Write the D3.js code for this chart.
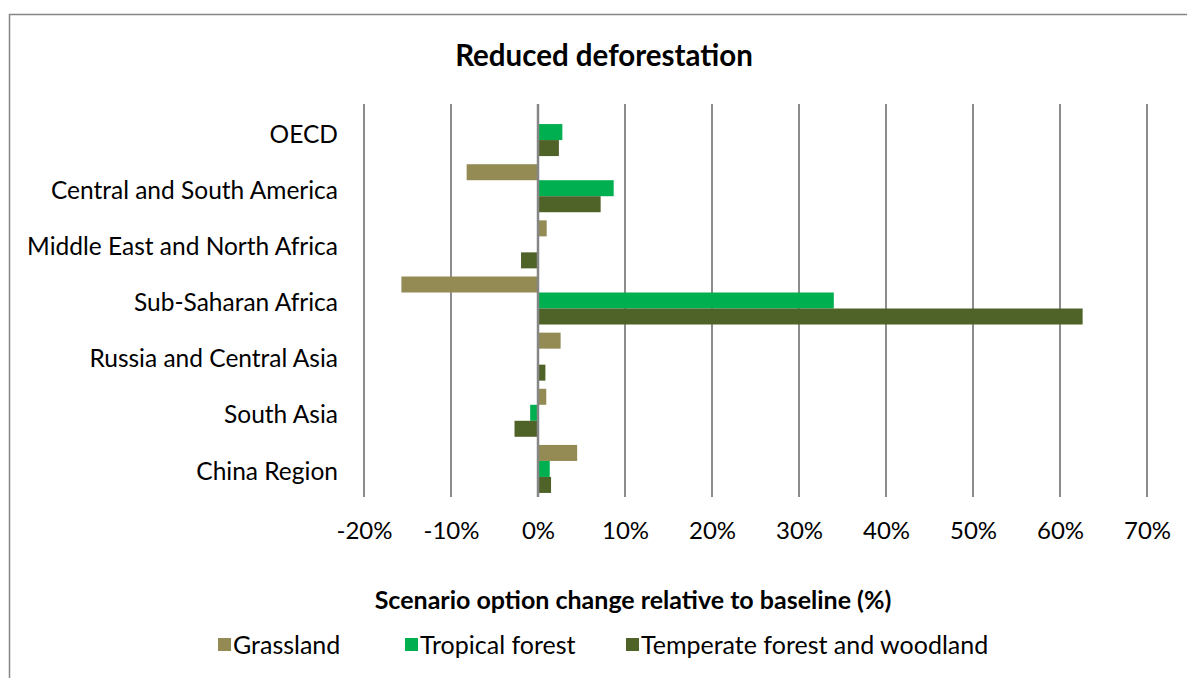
<!DOCTYPE html>
<html>
<head>
<meta charset="utf-8">
<script src="https://cdn.jsdelivr.net/npm/d3@7"></script>
<style>
  body { margin: 0; background: #fff; }
  text { font-family: Lato, "Open Sans", sans-serif; fill: #000; }
</style>
</head>
<body>
<div id="chart"></div>
<script>
// Data
const regions = ["OECD", "Central and South America", "Middle East and North Africa",
    "Sub-Saharan Africa", "Russia and Central Asia", "South Asia", "China Region"];
const seriesNames = ["Grassland", "Tropical forest", "Temperate forest and woodland"];
const grassland = [-0.001, -0.082, 0.010, -0.157, 0.026, 0.0095, 0.045];
const tropical = [0.028, 0.087, 0, 0.340, 0, -0.009, 0.0135];
const temperate = [0.024, 0.072, -0.0195, 0.626, 0.0085, -0.027, 0.015];
const xTicks = [-0.2, -0.1, 0, 0.1, 0.2, 0.3, 0.4, 0.5, 0.6, 0.7];
const colors = ["#948A54", "#00B050", "#4F6228"];

const width = 1187, height = 678;
const plot = {left: 364, right: 1147, top: 104, bottom: 497};

const svg = d3.select("#chart").append("svg")
    .attr("width", width)
    .attr("height", height);

// outer chart border (runs off the right and bottom edges)
svg.append("rect")
    .attr("x", 9.5).attr("y", 14.5)
    .attr("width", 1200).attr("height", 700)
    .attr("fill", "none")
    .attr("stroke", "#868686")
    .attr("stroke-width", 1.5);

// Scales
const x = d3.scaleLinear()
    .domain([-0.2, 0.7])
    .range([plot.left, plot.right]);

const y = d3.scaleBand()
    .domain(regions)
    .range([plot.top, plot.bottom])
    .paddingInner(0.145)
    .paddingOuter(0.0725);

const ySub = d3.scaleBand()
    .domain(seriesNames)
    .range([0, y.bandwidth()]);

// Gridlines
svg.append("g")
    .selectAll("line")
    .data(xTicks)
    .join("line")
    .attr("x1", d => x(d)).attr("x2", d => x(d))
    .attr("y1", plot.top).attr("y2", plot.bottom)
    .attr("stroke", "#8c8c8c")
    .attr("stroke-width", 2);

// Bars
const series = [grassland, tropical, temperate];
const rows = [];
regions.forEach((r, i) => {
    seriesNames.forEach((s, j) => {
        rows.push({region: r, series: s, value: series[j][i], color: colors[j]});
    });
});

svg.append("g")
    .selectAll("rect")
    .data(rows.filter(d => d.value !== 0))
    .join("rect")
    .attr("x", d => x(Math.min(0, d.value)))
    .attr("y", d => y(d.region) + ySub(d.series))
    .attr("width", d => Math.abs(x(d.value) - x(0)))
    .attr("height", ySub.bandwidth())
    .attr("fill", d => d.color);

// zero line on top
svg.append("line")
    .attr("x1", x(0)).attr("x2", x(0))
    .attr("y1", plot.top).attr("y2", plot.bottom)
    .attr("stroke", "#868686")
    .attr("stroke-width", 2.5);

// Category labels
svg.append("g")
    .selectAll("text")
    .data(regions)
    .join("text")
    .attr("x", 338)
    .attr("y", d => y(d) + y.bandwidth() / 2 + 2)
    .attr("dy", "0.35em")
    .attr("text-anchor", "end")
    .style("font-size", "24.5px")
    .text(d => d);

// X tick labels
const xAxis = svg.append("g")
    .attr("transform", `translate(0, ${plot.bottom})`)
    .call(d3.axisBottom(x).tickValues(xTicks).tickFormat(d3.format(".0%")).tickSize(0).tickPadding(25));
xAxis.select(".domain").remove();
xAxis.selectAll("text")
    .style("font-family", "Lato, 'Open Sans', sans-serif")
    .style("font-size", "24px")
    .attr("fill", "#000")
    .text(d => d3.format(".0%")(d).replace("−", "-"));

// Title
svg.append("text")
    .attr("x", 604)
    .attr("y", 66)
    .attr("text-anchor", "middle")
    .style("font-size", "29.5px")
    .style("font-weight", "bold")
    .text("Reduced deforestation");

// Axis title
svg.append("text")
    .attr("x", 633)
    .attr("y", 609)
    .attr("text-anchor", "middle")
    .style("font-size", "25px")
    .style("font-weight", "bold")
    .text("Scenario option change relative to baseline (%)");

// Legend
const legendX = [218, 405, 626];
const legend = svg.append("g")
    .selectAll("g")
    .data(seriesNames)
    .join("g")
    .attr("transform", (d, i) => `translate(${legendX[i]}, 645)`);

legend.append("rect")
    .attr("x", 0).attr("y", -7)
    .attr("width", 13).attr("height", 13)
    .attr("fill", (d, i) => colors[i]);

legend.append("text")
    .attr("x", 15)
    .attr("y", 0)
    .attr("dy", "0.35em")
    .style("font-size", "25px")
    .text(d => d);
</script>
</body>
</html>
